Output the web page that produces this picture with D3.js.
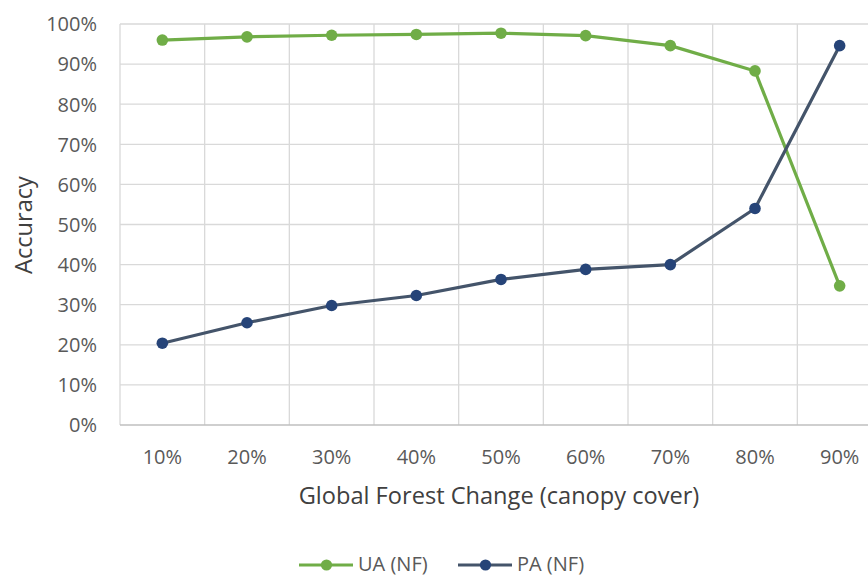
<!DOCTYPE html>
<html>
<head>
<meta charset="utf-8">
<script src="https://cdn.jsdelivr.net/npm/d3@7"></script>
<style>
  html, body { margin: 0; padding: 0; background: #fff; overflow: hidden; }
  svg { display: block; font-family: "Open Sans", "Noto Sans", sans-serif; }
</style>
</head>
<body>
<svg id="chart" width="868" height="575"></svg>
<script>
// Canopy cover thresholds along the x axis
const categories = ["10%", "20%", "30%", "40%", "50%", "60%", "70%", "80%", "90%"];
// User's accuracy, non-forest class (percent)
const uaValues = [96.0, 96.8, 97.2, 97.4, 97.7, 97.1, 94.6, 88.3, 34.7];
// Producer's accuracy, non-forest class (percent)
const paValues = [20.4, 25.5, 29.8, 32.3, 36.3, 38.8, 40.0, 54.0, 94.6];
// Y axis ticks (percent)
const yTicks = [0, 10, 20, 30, 40, 50, 60, 70, 80, 90, 100];

const series = [
  { name: "UA (NF)", values: uaValues, line: "#70AD47", dot: "#70AD47" },
  { name: "PA (NF)", values: paValues, line: "#44546A", dot: "#264478" }
];

const svg = d3.select("#chart");
const plotLeft = 120, plotRight = 882, plotTop = 24, plotBottom = 425;
const tickFont = "20px", titleFont = "23.6px";

const x = d3.scaleBand().domain(categories).range([plotLeft, plotRight]).paddingInner(0).paddingOuter(0);
const y = d3.scaleLinear().domain([0, 100]).range([plotBottom, plotTop]);

// Horizontal gridlines
svg.append("g").selectAll("line").data(yTicks.filter(d => d > 0)).join("line")
  .attr("x1", plotLeft).attr("x2", plotRight)
  .attr("y1", d => y(d)).attr("y2", d => y(d))
  .attr("stroke", "#D9D9D9").attr("stroke-width", 1.3);

// Vertical gridlines at category boundaries
const bounds = categories.map(c => x(c)).concat([plotRight]);
svg.append("g").selectAll("line").data(bounds).join("line")
  .attr("x1", d => d).attr("x2", d => d)
  .attr("y1", plotTop).attr("y2", plotBottom)
  .attr("stroke", "#D9D9D9").attr("stroke-width", 1.3);

// Category axis baseline
svg.append("line").attr("x1", plotLeft).attr("x2", plotRight)
  .attr("y1", plotBottom).attr("y2", plotBottom)
  .attr("stroke", "#BFBFBF").attr("stroke-width", 1.3);

// Y tick labels
const yAxis = d3.axisLeft(y).tickValues(yTicks).tickFormat(d => d + "%").tickSize(0).tickPadding(0);
const gy = svg.append("g").attr("transform", `translate(${plotLeft - 23},0)`).call(yAxis);
gy.select(".domain").remove();
gy.selectAll("text").attr("fill", "#595959").attr("dy", "0.34em").style("font-size", tickFont)
  .style("font-family", "'Open Sans', sans-serif");

// X tick labels
const xAxis = d3.axisBottom(x).tickSize(0).tickPadding(0);
const gx = svg.append("g").attr("transform", `translate(0,${plotBottom})`).call(xAxis);
gx.select(".domain").remove();
gx.selectAll("text").attr("fill", "#595959").attr("y", 39).attr("dy", 0).style("font-size", tickFont)
  .style("font-family", "'Open Sans', sans-serif");

// Axis titles
svg.append("text").attr("x", 499).attr("y", 504).attr("text-anchor", "middle")
  .attr("fill", "#404040").style("font-size", titleFont).text("Global Forest Change (canopy cover)");
svg.append("text").attr("transform", `translate(32,225) rotate(-90)`).attr("text-anchor", "middle")
  .attr("fill", "#404040").style("font-size", titleFont).text("Accuracy");

// Series lines and markers
const line = d3.line().x((d, i) => x(categories[i]) + x.bandwidth() / 2).y(d => y(d));
series.forEach(s => {
  svg.append("path").datum(s.values).attr("d", line)
    .attr("fill", "none").attr("stroke", s.line).attr("stroke-width", 3.2)
    .attr("stroke-linejoin", "round");
  svg.append("g").selectAll("circle").data(s.values).join("circle")
    .attr("cx", (d, i) => x(categories[i]) + x.bandwidth() / 2)
    .attr("cy", d => y(d)).attr("r", 5.8).attr("fill", s.dot);
});

// Legend
const legendItems = [{ s: series[0], x0: 299 }, { s: series[1], x0: 458 }];
legendItems.forEach(({ s, x0 }) => {
  const g = svg.append("g").attr("transform", `translate(${x0},565)`);
  g.append("line").attr("x1", 0).attr("x2", 54).attr("y1", 0).attr("y2", 0)
    .attr("stroke", s.line).attr("stroke-width", 3.2);
  g.append("circle").attr("cx", 27.5).attr("cy", 0).attr("r", 5.6).attr("fill", s.dot);
  g.append("text").attr("x", 59).attr("y", 5.5).attr("fill", "#595959")
    .style("font-size", tickFont).text(s.name);
});
</script>
</body>
</html>
